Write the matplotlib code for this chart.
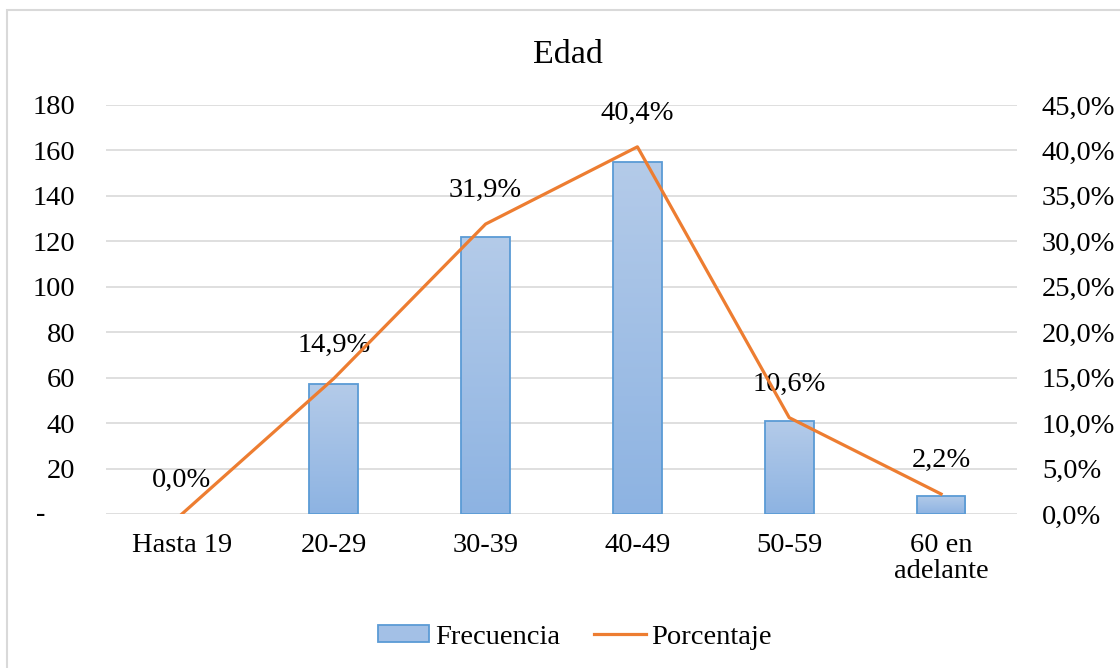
import numpy as np
import matplotlib
matplotlib.use('Agg')
import matplotlib.pyplot as plt
from matplotlib.patches import Rectangle
from matplotlib.colors import LinearSegmentedColormap

categorias = ['Hasta 19', '20-29', '30-39', '40-49', '50-59', '60 en\nadelante']
frecuencia = [0, 57, 122, 155, 41, 8]
porcentaje = [0.0, 14.9, 31.9, 40.4, 10.6, 2.2]
ticks_izq = [0, 20, 40, 60, 80, 100, 120, 140, 160, 180]
ticks_der = [0, 5, 10, 15, 20, 25, 30, 35, 40, 45]

plt.rcParams['font.family'] = ['Liberation Serif', 'DejaVu Serif']
fs = 20.5

fig = plt.figure(figsize=(11.2, 6.68), dpi=100)
ax = fig.add_axes([106/1120, 1-514/668, (1017-106)/1120, (514-105)/668])
ax2 = ax.twinx()

x = np.arange(len(categorias))
# gradient fill for the bars (no visible bar for zero)
cmap = LinearSegmentedColormap.from_list('g', ['#8db3e2', '#b4cbe9'])
grad = np.linspace(0, 1, 256).reshape(-1, 1)
edges = ['none' if f == 0 else '#5b9bd5' for f in frecuencia]
bars = ax.bar(x, frecuencia, width=0.32, color='none', edgecolor=edges, linewidth=1.3, zorder=3)
for b in bars:
    if b.get_height() <= 0:
        continue
    im = ax.imshow(grad, cmap=cmap, aspect='auto', origin='lower',
                   extent=[b.get_x(), b.get_x()+b.get_width(), 0, b.get_height()], zorder=2)
    im.set_clip_path(b)

ax.set_xlim(-0.5, len(categorias)-0.5)
ax.set_ylim(0, 180)
ax.set_yticks(ticks_izq)
ax.set_yticklabels(['' if t == 0 else str(t) for t in ticks_izq], fontsize=fs)
# accounting-style dash for zero, sits left of the number column
ax.annotate('-', xy=(0, 0), xycoords=('axes fraction', 'data'), xytext=(-47, 0),
            textcoords='offset points', ha='center', va='center', fontsize=fs)
ax.set_xticks(x)
ax.set_xticklabels(categorias, fontsize=fs, linespacing=1.05)
ax.tick_params(axis='x', length=0, pad=14)
ax.tick_params(axis='y', length=0, pad=22)
ax.grid(axis='y', color='#d9d9d9', linewidth=1.2, zorder=0)
ax.set_axisbelow(True)
for s in ax.spines.values():
    s.set_visible(False)

ax2.plot(x, porcentaje, color='#ed7d31', linewidth=2.3, zorder=4)
ax2.set_ylim(0, 45)
ax2.set_yticks(ticks_der)
ax2.set_yticklabels([('%.1f%%' % t).replace('.', ',') for t in ticks_der], fontsize=fs)
ax2.tick_params(axis='y', length=0, pad=18)
for s in ax2.spines.values():
    s.set_visible(False)
ax2.set_xlim(-0.5, len(categorias)-0.5)

for xi, p in zip(x, porcentaje):
    ax2.annotate(('%.1f%%' % p).replace('.', ','), (xi, p), xytext=(0, 24),
                 textcoords='offset points', ha='center', va='center', fontsize=fs)

fig.text(568/1120, 1-63/668, 'Edad', ha='center', va='baseline', fontsize=24.5)

h1 = Rectangle((0, 0), 1, 1, facecolor='#a3c0e6', edgecolor='#5b9bd5', linewidth=1.3)
h2 = plt.Line2D([0], [0], color='#ed7d31', linewidth=2.3)
fig.legend([h1, h2], ['Frecuencia', 'Porcentaje'], loc='center', bbox_to_anchor=(575/1120, 1-637/668),
           ncol=2, frameon=False, fontsize=fs, handlelength=1.8, handleheight=0.5,
           handletextpad=0.2, columnspacing=1.2)

# outer chart border
fig.patches.append(Rectangle((7/1120, -0.1), 1.2, 1-10/668+0.1, transform=fig.transFigure,
                             fill=False, edgecolor='#d9d9d9', linewidth=1.5))

fig.savefig('out.png', dpi=100)
